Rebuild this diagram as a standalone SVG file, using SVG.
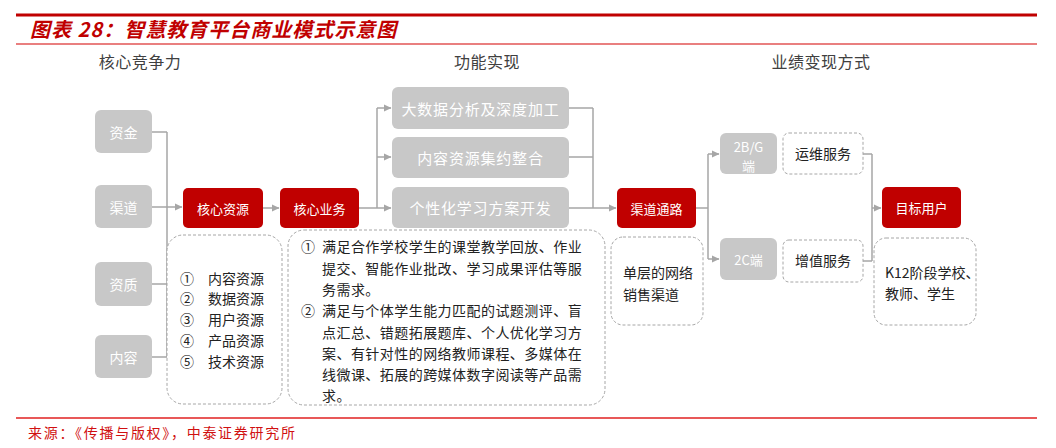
<svg xmlns="http://www.w3.org/2000/svg" width="1056" height="448" viewBox="0 0 1056 448">
<style>
text{font-family:"Noto Sans CJK SC","Liberation Sans",sans-serif;}
.title{font-size:20px;font-weight:bold;font-style:italic;fill:#C00000;letter-spacing:1px;}
.head{font-size:16px;fill:#404040;text-anchor:middle;letter-spacing:0.5px;}
.grey{fill:#C8C8C8;}
.red{fill:#C00000;}
.wt{fill:#FFFFFF;text-anchor:middle;dominant-baseline:central;}
.dash{fill:#FFFFFF;stroke:#A6A6A6;stroke-width:1;stroke-dasharray:3 2;}
.bt{font-size:14px;fill:#222222;}
.num{font-size:14px;fill:#222222;}
.conn{fill:none;stroke:#A6A6A6;stroke-width:1.5;}
.src{font-size:14px;fill:#D01010;letter-spacing:1.7px;}
</style>
<defs>
<marker id="arr" markerWidth="8" markerHeight="8" refX="7" refY="4" orient="auto" markerUnits="userSpaceOnUse">
<path d="M0,0.5 L7.5,4 L0,7.5 Z" fill="#A6A6A6"/>
</marker>
</defs>
<rect width="1056" height="448" fill="#FFFFFF"/>
<g id="header">
<line x1="16" y1="15" x2="1037" y2="15" stroke="#C00000" stroke-width="3"/>
<text class="title" x="30" y="37">图表 28：智慧教育平台商业模式示意图</text>
<line x1="16" y1="44" x2="1037" y2="44" stroke="#D40000" stroke-width="1.2"/>
<text class="head" x="140" y="68">核心竞争力</text>
<text class="head" x="487" y="68">功能实现</text>
<text class="head" x="821" y="68">业绩变现方式</text>
</g>
<g id="connectors">
<path class="conn" d="M152,132 H167 M152,284 H167 M152,357 H167 M167,132 V357"/>
<path class="conn" d="M152,207 H182" marker-end="url(#arr)"/>
<path class="conn" d="M263,208 H279" marker-end="url(#arr)"/>
<path class="conn" d="M359,208 H377 M377,108 V208"/>
<path class="conn" d="M377,108 H391" marker-end="url(#arr)"/>
<path class="conn" d="M377,157 H391" marker-end="url(#arr)"/>
<path class="conn" d="M377,208 H391" marker-end="url(#arr)"/>
<path class="conn" d="M569,108 H593 M569,157 H593 M593,108 V208"/>
<path class="conn" d="M569,208 H616" marker-end="url(#arr)"/>
<path class="conn" d="M696,208 H708 M708,154 V259"/>
<path class="conn" d="M708,154 H719" marker-end="url(#arr)"/>
<path class="conn" d="M708,259 H719" marker-end="url(#arr)"/>
<path class="conn" d="M863,154 H872 M863,261 H872 M872,154 V261"/>
<path class="conn" d="M872,208 H881" marker-end="url(#arr)"/>
</g>
<g id="zijin"><rect class="grey" x="95" y="110" width="57" height="43" rx="6"/><text class="wt" x="123.5" y="131.5" font-size="14">资金</text></g>
<g id="qudao"><rect class="grey" x="95" y="185" width="57" height="43" rx="6"/><text class="wt" x="123.5" y="206.5" font-size="14">渠道</text></g>
<g id="zizhi"><rect class="grey" x="95" y="262" width="57" height="44" rx="6"/><text class="wt" x="123.5" y="284" font-size="14">资质</text></g>
<g id="neirong"><rect class="grey" x="95" y="335" width="57" height="43" rx="6"/><text class="wt" x="123.5" y="356.5" font-size="14">内容</text></g>
<g id="hexinziyuan"><rect class="red" x="183" y="188" width="80" height="40" rx="5"/><text class="wt" x="223" y="208" font-size="13">核心资源</text></g>
<g id="hexinyewu"><rect class="red" x="280" y="188" width="79" height="40" rx="5"/><text class="wt" x="319.5" y="208" font-size="13">核心业务</text></g>
<g id="resources">
<rect class="dash" x="167" y="235" width="115" height="169" rx="16"/>
<text class="num" x="180" y="284">①</text><text class="bt" x="208" y="284">内容资源</text>
<text class="num" x="180" y="304">②</text><text class="bt" x="208" y="304">数据资源</text>
<text class="num" x="180" y="325">③</text><text class="bt" x="208" y="325">用户资源</text>
<text class="num" x="180" y="346">④</text><text class="bt" x="208" y="346">产品资源</text>
<text class="num" x="180" y="367">⑤</text><text class="bt" x="208" y="367">技术资源</text>
</g>
<g id="needs">
<rect class="dash" x="288" y="230" width="317" height="175" rx="16"/>
<text class="num" x="301" y="252">①</text>
<text class="num" x="301" y="316">②</text>
<g class="bt" style="letter-spacing:0.45px">
<text x="322" y="252">满足合作学校学生的课堂教学回放、作业</text>
<text x="322" y="274">提交、智能作业批改、学习成果评估等服</text>
<text x="322" y="295">务需求。</text>
<text x="322" y="316">满足与个体学生能力匹配的试题测评、盲</text>
<text x="322" y="338">点汇总、错题拓展题库、个人优化学习方</text>
<text x="322" y="359">案、有针对性的网络教师课程、多媒体在</text>
<text x="322" y="380">线微课、拓展的跨媒体数字阅读等产品需</text>
<text x="322" y="401">求。</text>
</g>
</g>
<g id="func1"><rect class="grey" x="392" y="87" width="177" height="42" rx="6"/><text class="wt" x="480.5" y="108" font-size="15" style="letter-spacing:0.8px">大数据分析及深度加工</text></g>
<g id="func2"><rect class="grey" x="392" y="137" width="177" height="41" rx="6"/><text class="wt" x="480.5" y="157.5" font-size="15" style="letter-spacing:0.8px">内容资源集约整合</text></g>
<g id="func3"><rect class="grey" x="392" y="187" width="177" height="41" rx="6"/><text class="wt" x="480.5" y="207.5" font-size="15" style="letter-spacing:0.8px">个性化学习方案开发</text></g>
<g id="qudaotonglu"><rect class="red" x="617" y="188" width="79" height="40" rx="5"/><text class="wt" x="656.5" y="208" font-size="13">渠道通路</text></g>
<g id="channel">
<rect class="dash" x="611" y="237" width="92" height="88" rx="12"/>
<text class="bt" x="623" y="278">单层的网络</text>
<text class="bt" x="623" y="300">销售渠道</text>
</g>
<g id="b2g"><rect class="grey" x="720" y="133" width="57" height="41" rx="6"/><text class="wt" x="748.5" y="146" font-size="13">2B/G</text><text class="wt" x="748.5" y="165" font-size="13">端</text></g>
<g id="c2"><rect class="grey" x="720" y="238" width="57" height="42" rx="6"/><text class="wt" x="748.5" y="259" font-size="13">2C端</text></g>
<g id="yunwei"><rect class="dash" x="783" y="133" width="80" height="41" rx="6"/><text class="bt" x="823" y="159" text-anchor="middle">运维服务</text></g>
<g id="zengzhi"><rect class="dash" x="783" y="240" width="80" height="42" rx="6"/><text class="bt" x="823" y="266" text-anchor="middle">增值服务</text></g>
<g id="mubiao"><rect class="red" x="882" y="187" width="79" height="41" rx="5"/><text class="wt" x="921.5" y="207.5" font-size="13">目标用户</text></g>
<g id="users">
<rect class="dash" x="874" y="238" width="102" height="87" rx="12"/>
<text class="bt" x="885" y="278">K12阶段学校、</text>
<text class="bt" x="885" y="299">教师、学生</text>
</g>
<g id="footer">
<line x1="16" y1="418" x2="1037" y2="418" stroke="#E02020" stroke-width="1.5"/>
<text class="src" x="28" y="438">来源：《传播与版权》，中泰证券研究所</text>
</g>
</svg>
